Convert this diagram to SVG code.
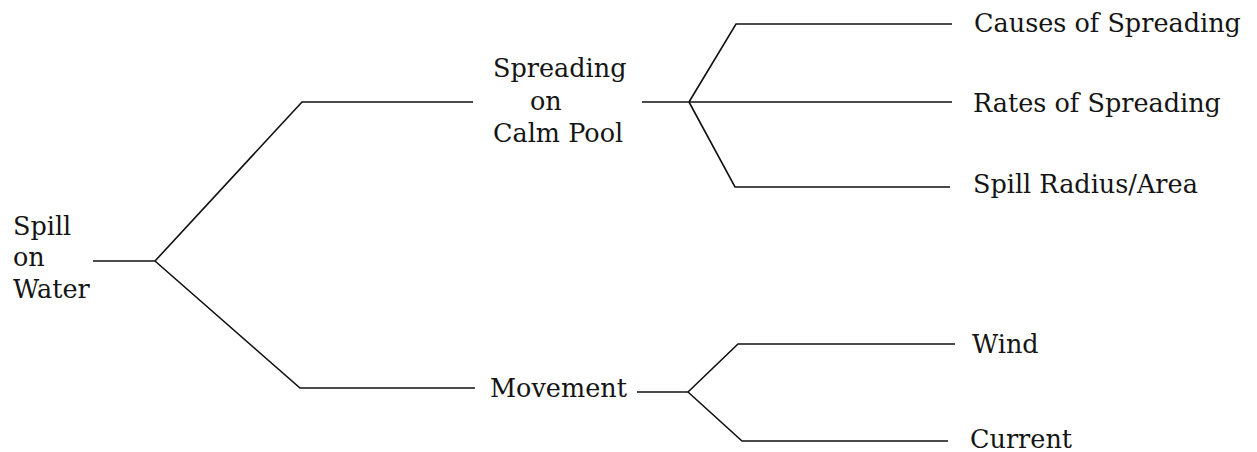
<svg xmlns="http://www.w3.org/2000/svg" width="1257" height="452" viewBox="0 0 1257 452">
<style>
text { font-family: "DejaVu Serif", "Liberation Serif", serif; font-size: 25.5px; fill: #151515; }
.c { fill: none; stroke: #111; stroke-width: 1.6; stroke-linejoin: miter; }
</style>
<rect width="1257" height="452" fill="#fff"/>
<g id="connectors">
<path class="c" d="M93 261 H155"/>
<path class="c" d="M155 261 L302 102 H473"/>
<path class="c" d="M155 261 L300 388 H475"/>
<path class="c" d="M642 102 H689"/>
<path class="c" d="M689 102 L736 24 H952"/>
<path class="c" d="M689 102 H952"/>
<path class="c" d="M689 102 L735 187 H950"/>
<path class="c" d="M637 392 H688"/>
<path class="c" d="M688 392 L738 344 H955"/>
<path class="c" d="M688 392 L742 441 H948"/>
</g>
<g id="spill-on-water">
<text x="13" y="235">Spill</text>
<text x="13" y="266">on</text>
<text x="13" y="298">Water</text>
</g>
<g id="spreading-on-calm-pool">
<text x="493" y="77">Spreading</text>
<text x="530" y="110">on</text>
<text x="493" y="142">Calm Pool</text>
</g>
<g id="movement">
<text x="490" y="397">Movement</text>
</g>
<g id="causes-of-spreading">
<text x="974" y="32">Causes of Spreading</text>
</g>
<g id="rates-of-spreading">
<text x="973" y="112">Rates of Spreading</text>
</g>
<g id="spill-radius-area">
<text x="973" y="193">Spill Radius/Area</text>
</g>
<g id="wind">
<text x="972" y="353">Wind</text>
</g>
<g id="current">
<text x="970" y="448">Current</text>
</g>
</svg>
